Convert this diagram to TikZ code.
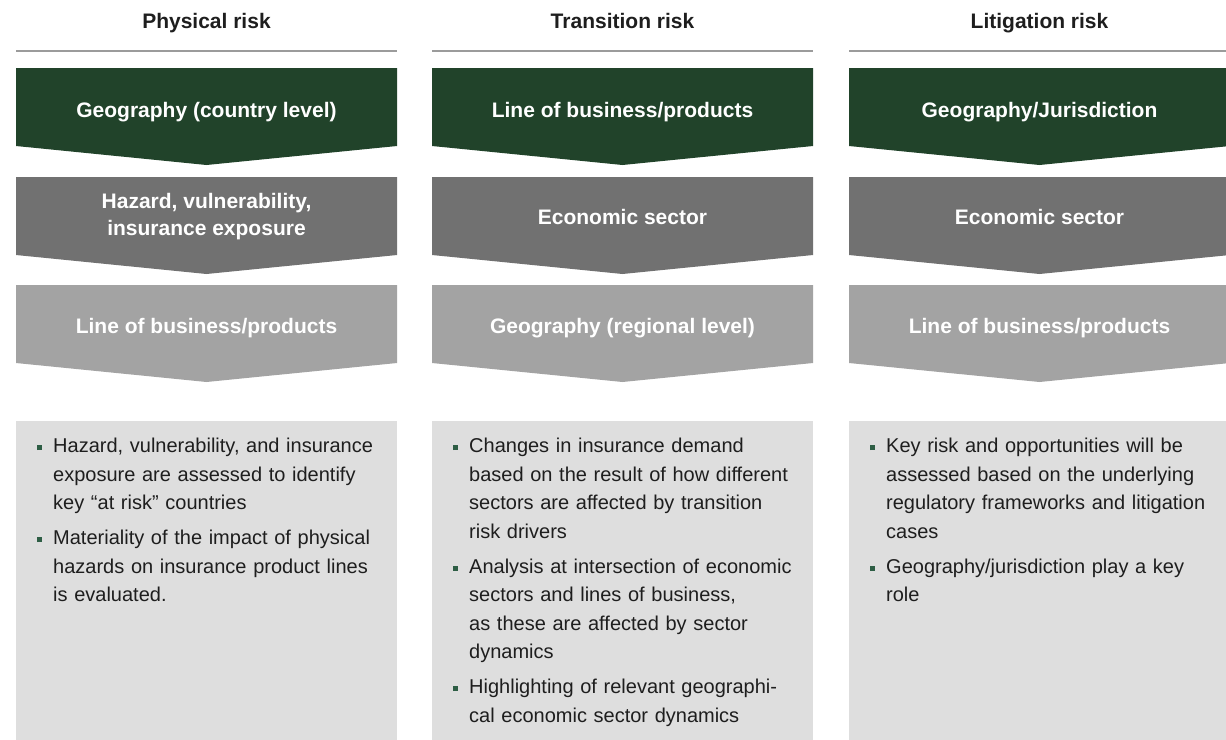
\documentclass[tikz,border=0pt]{standalone}
\usepackage{fontspec}
\setmainfont{Liberation Sans}
\usepackage{xcolor}
\usepackage{tikz}

\definecolor{riskgreen}{HTML}{21432A}
\definecolor{darkgrey}{HTML}{717171}
\definecolor{lightgrey}{HTML}{A3A3A3}
\definecolor{notegrey}{HTML}{DEDEDE}
\definecolor{rulegrey}{HTML}{9B9B9B}
\definecolor{bulletgreen}{HTML}{2E5E45}
\definecolor{inktext}{HTML}{1E1E1E}

\newcommand{\chev}[3]{\fill[#3] (#1,#2) -- ++(381,0) -- ++(0,78) -- ++(-190.5,19) -- ++(-190.5,-19) -- cycle;}
\newcommand{\riskitem}[1]{\par\noindent\hangindent=16pt\hangafter=1
  \makebox[16pt][l]{\raisebox{2.5pt}{\textcolor{bulletgreen}{\rule{5pt}{5pt}}}}%
  {\let\\\newline #1}\par}

\tikzset{
  x=1pt, y=-1pt,
  coltitle/.style={anchor=base, inner sep=0, text=inktext, font=\bfseries\fontsize{21}{25}\selectfont},
  chevtext/.style={anchor=base, inner sep=0, text=white, align=center, font=\bfseries\fontsize{21}{27}\selectfont},
  notes/.style={anchor=north west, inner sep=0, text width=360pt, text=inktext, font=\fontsize{20}{28.5}\selectfont},
  ruleline/.style={draw=rulegrey, line width=2pt}
}

\begin{document}
\begin{tikzpicture}
  \clip (0,0) rectangle (1226,739);

  \foreach \lft in {16,432,849} {
    \draw[ruleline] (\lft,51) -- ++(381,0);
    \chev{\lft}{68}{riskgreen}
    \chev{\lft}{177}{darkgrey}
    \chev{\lft}{285}{lightgrey}
    \fill[notegrey] (\lft,421) rectangle ++(381,330);
  }

  % physical risk
  \node[coltitle] (physTitle) at (206.5,28) {Physical risk};
  \node[chevtext] (physGeo) at (206.5,117) {Geography (country level)};
  \node[chevtext] (physHaz) at (206.5,235) {Hazard, vulnerability,\\insurance exposure};
  \node[chevtext] (physLob) at (206.5,333) {Line of business/products};
  \node[notes] (physNotes) at (37,424) {%
    \riskitem{Hazard, vulnerability, and insurance\\exposure are assessed to identify\\key “at risk” countries}
    \vspace{6.5pt}
    \riskitem{Materiality of the impact of physical\\hazards on insurance product lines\\is evaluated.}};

  % transition risk
  \node[coltitle] (transTitle) at (622.5,28) {Transition risk};
  \node[chevtext] (transLob) at (622.5,117) {Line of business/products};
  \node[chevtext] (transSector) at (622.5,224) {Economic sector};
  \node[chevtext] (transGeo) at (622.5,333) {Geography (regional level)};
  \node[notes] (transNotes) at (453,424) {%
    \riskitem{Changes in insurance demand\\based on the result of how different\\sectors are affected by transition\\risk drivers}
    \vspace{6.5pt}
    \riskitem{Analysis at intersection of economic\\sectors and lines of business,\\as these are affected by sector\\dynamics}
    \vspace{6.5pt}
    \riskitem{Highlighting of relevant geographi-\\cal economic sector dynamics}};

  % litigation risk
  \node[coltitle] (litTitle) at (1039.5,28) {Litigation risk};
  \node[chevtext] (litGeo) at (1039.5,117) {Geography/Jurisdiction};
  \node[chevtext] (litSector) at (1039.5,224) {Economic sector};
  \node[chevtext] (litLob) at (1039.5,333) {Line of business/products};
  \node[notes] (litNotes) at (870,424) {%
    \riskitem{Key risk and opportunities will be\\assessed based on the underlying\\regulatory frameworks and litigation\\cases}
    \vspace{6.5pt}
    \riskitem{Geography/jurisdiction play a key\\role}};
\end{tikzpicture}
\end{document}
